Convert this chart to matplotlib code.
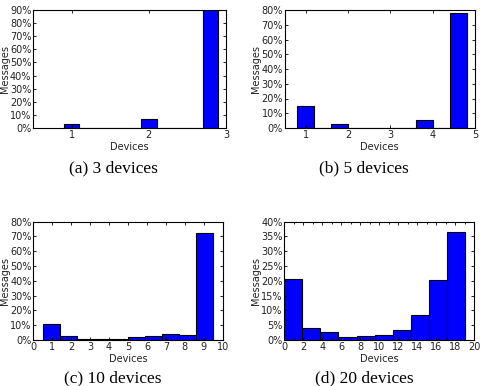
import numpy as np
import matplotlib
matplotlib.use("Agg")
import matplotlib.pyplot as plt
from matplotlib.ticker import FuncFormatter, MultipleLocator

# share of messages (%) per histogram bin, 10 bins per panel
bins_3 = [3.4, 0, 0, 0, 0, 6.6, 0, 0, 0, 90.0]
bins_5 = [14.6, 0, 2.5, 0, 0, 0, 0, 5.2, 0, 77.7]
bins_10 = [10.5, 2.7, 1.0, 0.4, 1.0, 2.0, 2.5, 4.0, 3.3, 72.6]
bins_20 = [20.6, 4.1, 2.6, 1.1, 1.5, 1.7, 3.4, 8.3, 20.2, 36.5]

n_devices = [3, 5, 10, 20]
captions = ["(a) 3 devices", "(b) 5 devices", "(c) 10 devices", "(d) 20 devices"]
xtick_sets = [[1, 2, 3], [1, 2, 3, 4, 5], list(range(0, 11)), list(range(0, 21, 2))]
ytops = [90, 80, 80, 40]
ysteps = [10, 10, 10, 5]

# layout: axes boxes in pixels (left, right, top, bottom), hist offsets, xlims
W, H = 484, 386
boxes = [(33, 226, 10, 128), (284.5, 475, 10, 128),
         (33.3, 222.7, 221.7, 340), (284.3, 474.3, 221.7, 340)]
offsets = [0.9, 0.8, 0.5, 0.0]
xlims = [(0.5, 3), (0.5, 5), (0, 10), (0, 20)]
caption_pos = [(113, 168), (364, 168), (113, 378), (364, 378)]

fig = plt.figure(figsize=(W / 100, H / 100), dpi=100)

all_bins = [bins_3, bins_5, bins_10, bins_20]
for k in range(4):
    l, r, t, b = boxes[k]
    ax = fig.add_axes([l / W, 1 - b / H, (r - l) / W, (b - t) / H])
    width = (n_devices[k] - 1) / 10
    lefts = offsets[k] + width * np.arange(10)
    ax.bar(lefts, all_bins[k], width=width, align="edge",
           color="#0000ff", edgecolor="black", linewidth=0.8)

    ax.set_xlim(*xlims[k])
    ax.set_ylim(0, ytops[k])
    ax.set_xticks(xtick_sets[k])
    if k == 3:
        ax.xaxis.set_minor_locator(MultipleLocator(1))
    ax.yaxis.set_major_locator(MultipleLocator(ysteps[k]))
    ax.yaxis.set_major_formatter(FuncFormatter(lambda v, p: "%d%%" % v))
    ax.tick_params(which="both", direction="in", top=True, right=True,
                   length=2.5, width=0.6, labelsize=7, pad=1.2,
                   labelcolor="#222222")
    ax.tick_params(which="minor", length=1.5)
    for s in ax.spines.values():
        s.set_linewidth(0.8)
    ax.set_xlabel("Devices", fontsize=7, labelpad=1.5, color="#222222")
    ax.set_ylabel("Messages", fontsize=7, labelpad=0.2, color="#222222")

    cx, cy = caption_pos[k]
    fig.text(cx / W, 1 - cy / H, captions[k], ha="center", va="center",
             family="Liberation Serif", fontsize=12.5)

fig.savefig("out.png", dpi=100)
